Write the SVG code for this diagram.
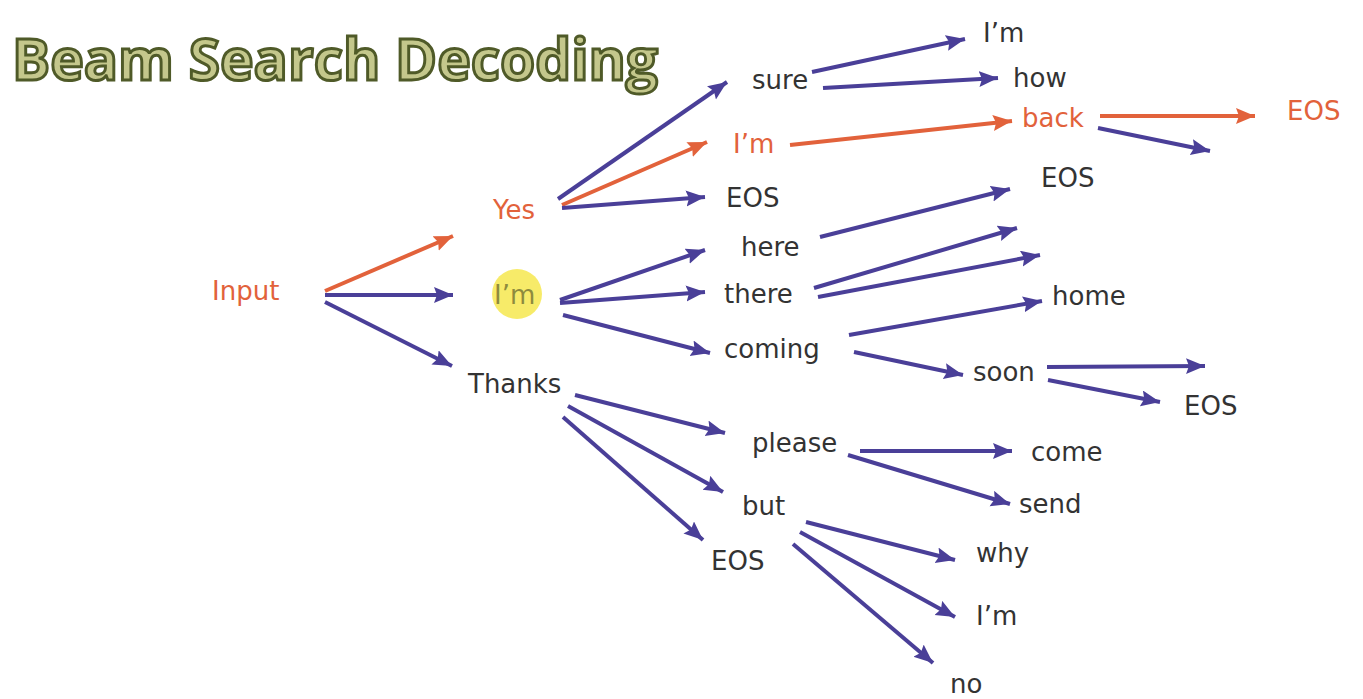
<svg xmlns="http://www.w3.org/2000/svg" width="1363" height="699" viewBox="0 0 1363 699">
<style>
.t{font-family:"DejaVu Sans","Liberation Sans",sans-serif;font-size:26px;fill:#333333}
.o{fill:#e2623b}
.title{font-family:"Open Sans","Liberation Sans",sans-serif;font-weight:700;font-size:58px;fill:#c4c78c;stroke:#4f5a28;stroke-width:3px}
.p{stroke:#4a3f98;stroke-width:4;fill:none;marker-end:url(#ap)}
.r{stroke:#e2623b;stroke-width:4;fill:none;marker-end:url(#ar)}
</style>
<defs>
<marker id="ap" markerUnits="userSpaceOnUse" markerWidth="22" markerHeight="18" refX="19" refY="8" orient="auto">
<path d="M0,0 L19,8 L0,16 L3,8 z" fill="#4a3f98"/>
</marker>
<marker id="ar" markerUnits="userSpaceOnUse" markerWidth="22" markerHeight="18" refX="19" refY="8" orient="auto">
<path d="M0,0 L19,8 L0,16 L3,8 z" fill="#e2623b"/>
</marker>
</defs>
<rect width="1363" height="699" fill="#ffffff"/>
<g id="title"><text class="title" x="12" y="80" textLength="646" lengthAdjust="spacingAndGlyphs">Beam Search Decoding</text></g>
<g id="connectors">
<line class="r" x1="325" y1="291" x2="453" y2="236"/>
<line class="p" x1="325" y1="295" x2="453" y2="295"/>
<line class="p" x1="325" y1="302" x2="452" y2="366"/>
<line class="p" x1="558" y1="199" x2="727" y2="82"/>
<line class="r" x1="562" y1="205" x2="707" y2="142"/>
<line class="p" x1="562" y1="208" x2="705" y2="197"/>
<line class="p" x1="812" y1="72" x2="965" y2="39"/>
<line class="p" x1="823" y1="88" x2="998" y2="78"/>
<line class="r" x1="790" y1="145" x2="1012" y2="121"/>
<line class="r" x1="1100" y1="116" x2="1255" y2="116"/>
<line class="p" x1="1098" y1="128" x2="1210" y2="151"/>
<line class="p" x1="560" y1="300" x2="705" y2="250"/>
<line class="p" x1="560" y1="303" x2="705" y2="292"/>
<line class="p" x1="563" y1="315" x2="710" y2="353"/>
<line class="p" x1="820" y1="237" x2="1010" y2="189"/>
<line class="p" x1="814" y1="288" x2="1017" y2="228"/>
<line class="p" x1="818" y1="297" x2="1040" y2="255"/>
<line class="p" x1="849" y1="335" x2="1042" y2="301"/>
<line class="p" x1="854" y1="352" x2="963" y2="375"/>
<line class="p" x1="1047" y1="367" x2="1205" y2="366"/>
<line class="p" x1="1048" y1="380" x2="1160" y2="402"/>
<line class="p" x1="575" y1="395" x2="725" y2="433"/>
<line class="p" x1="568" y1="406" x2="723" y2="492"/>
<line class="p" x1="563" y1="417" x2="703" y2="540"/>
<line class="p" x1="860" y1="451" x2="1012" y2="451"/>
<line class="p" x1="848" y1="455" x2="1010" y2="504"/>
<line class="p" x1="806" y1="522" x2="955" y2="560"/>
<line class="p" x1="800" y1="532" x2="955" y2="617"/>
<line class="p" x1="793" y1="544" x2="933" y2="663"/>
</g>
<g id="n-input"><text class="t o" x="212" y="300">Input</text></g>
<g id="n-yes"><text class="t o" x="493" y="219">Yes</text></g>
<g id="n-im1"><circle cx="517" cy="294" r="25" fill="#f6e84f" opacity="0.85"/><text class="t" x="494" y="304" style="fill:#8e8b3e">I’m</text></g>
<g id="n-thanks"><text class="t" x="468" y="393">Thanks</text></g>
<g id="n-sure"><text class="t" x="752" y="89">sure</text></g>
<g id="n-im2"><text class="t o" x="733" y="153">I’m</text></g>
<g id="n-eos1"><text class="t" x="726" y="207">EOS</text></g>
<g id="n-here"><text class="t" x="741" y="256">here</text></g>
<g id="n-there"><text class="t" x="724" y="303">there</text></g>
<g id="n-coming"><text class="t" x="724" y="358">coming</text></g>
<g id="n-im3"><text class="t" x="983" y="42">I’m</text></g>
<g id="n-how"><text class="t" x="1013" y="87">how</text></g>
<g id="n-back"><text class="t o" x="1022" y="127">back</text></g>
<g id="n-eos2"><text class="t o" x="1287" y="120">EOS</text></g>
<g id="n-eos3"><text class="t" x="1041" y="187">EOS</text></g>
<g id="n-home"><text class="t" x="1052" y="305">home</text></g>
<g id="n-soon"><text class="t" x="973" y="381">soon</text></g>
<g id="n-eos4"><text class="t" x="1184" y="415">EOS</text></g>
<g id="n-please"><text class="t" x="752" y="452">please</text></g>
<g id="n-come"><text class="t" x="1031" y="461">come</text></g>
<g id="n-send"><text class="t" x="1019" y="513">send</text></g>
<g id="n-but"><text class="t" x="742" y="515">but</text></g>
<g id="n-eos5"><text class="t" x="711" y="570">EOS</text></g>
<g id="n-why"><text class="t" x="976" y="562">why</text></g>
<g id="n-im4"><text class="t" x="976" y="625">I’m</text></g>
<g id="n-no"><text class="t" x="950" y="693">no</text></g>
</svg>
